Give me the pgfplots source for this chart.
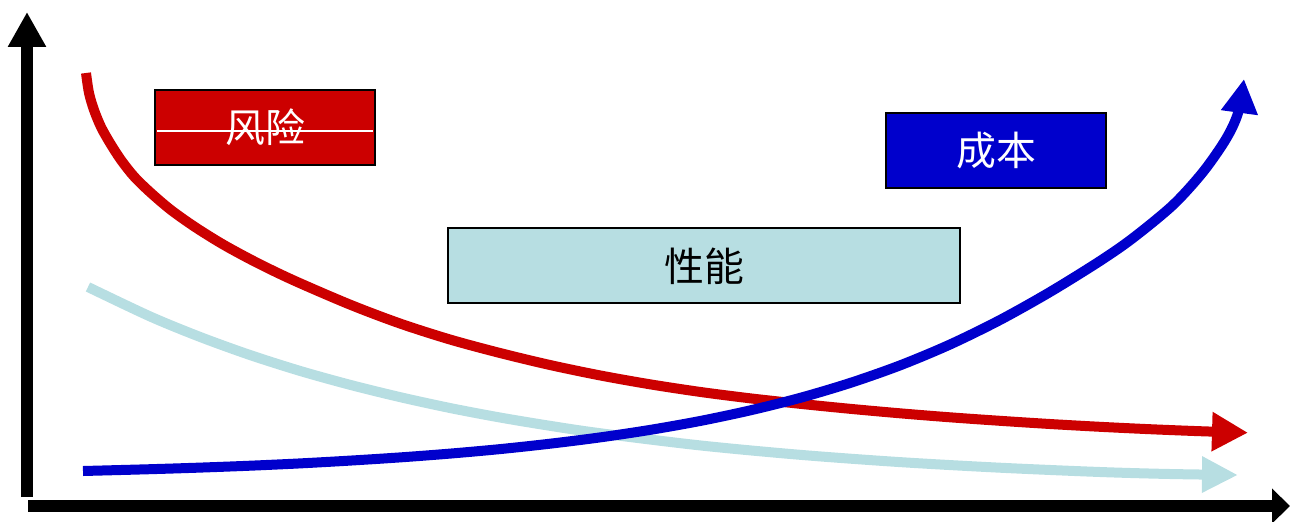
\documentclass[border=0pt]{standalone}
\usepackage{pgfplots}
\pgfplotsset{compat=1.18}
\usepackage{fontspec}
\newfontfamily\cjk{Noto Sans CJK SC}
\usetikzlibrary{arrows.meta}
\definecolor{cred}{HTML}{CC0000}
\definecolor{cblue}{HTML}{0000CC}
\definecolor{clight}{HTML}{B7DEE2}
\begin{document}
\begin{tikzpicture}
\begin{axis}[
  width=1290bp, height=521bp, scale only axis,
  xmin=0, xmax=1290, ymin=0, ymax=521, y dir=reverse,
  axis lines=none, clip=false,
]
% axes
\addplot[black, line width=12bp, sharp plot, -{Triangle[length=35bp,width=36bp]}] coordinates {(27,497) (27,12)};
\addplot[black, line width=12bp, sharp plot, -{Triangle[length=18bp,width=34bp]}] coordinates {(28,506) (1290,506)};
% light blue (performance)
\addplot[clight, line width=10bp, smooth, tension=0.5, -{Triangle[length=36bp,width=34bp]}] coordinates {
(88,287) (150,316.4) (200,336.9) (250,355) (300,370.9) (350,384.8) (400,397.1) (450,408) (500,417.5) (550,425.8) (600,433.2) (700,445.4) (800,454.8) (900,462.1) (1000,467.7) (1100,472) (1170,474) (1238,475)};
% red (risk)
\addplot[cred, line width=10bp, smooth, tension=0.5, -{Triangle[length=36bp,width=37bp]}] coordinates {
(86,73) (89,93) (94,110) (101,127) (110,143) (121,160) (134.5,177) (151,193) (171,210) (195,227) (223.5,244.7) (256.5,262.5) (293.5,280.3) (350,304.6) (400,323.5) (450,339.5) (500,353) (550,365) (600,375.4) (650,384.3) (700,391.9) (750,398.3) (800,403.8) (850,408.8) (900,413.3) (950,417.3) (1000,420.8) (1050,424) (1100,426.8) (1150,429.2) (1200,431.2) (1248,432.7)};
% blue (cost)
\addplot[cblue, line width=10bp, smooth, tension=0.5, -{Triangle[length=34bp,width=35bp]}] coordinates {
(83,471) (150,469.2) (200,467.6) (250,465.7) (300,463.4) (350,460.6) (400,457.4) (450,453.6) (500,449.1) (550,443.7) (600,437.4) (650,429.9) (700,421) (750,410.4) (800,397.9) (850,383) (900,365.4) (950,344.5) (1000,320) (1050,292) (1100,261) (1133,238) (1173,205) (1203,172) (1226,139) (1238,113) (1244,79)};
% boxes
\fill[cred, draw=black, line width=1.5bp] (axis cs:155,90) rectangle (axis cs:375,165);
\node[text=white, font=\cjk\fontsize{40}{44}\selectfont] at (axis cs:265,127) {风险};
\draw[white, line width=1.2bp] (axis cs:157,131) -- (axis cs:373,131);
\fill[cblue, draw=black, line width=1.5bp] (axis cs:886,113) rectangle (axis cs:1106,188);
\node[text=white, font=\cjk\fontsize{40}{44}\selectfont] at (axis cs:996,151) {成本};
\fill[clight, draw=black, line width=1.5bp] (axis cs:448,228) rectangle (axis cs:960,303);
\node[text=black, font=\cjk\fontsize{40}{44}\selectfont] at (axis cs:704,266) {性能};
\end{axis}
\pgfresetboundingbox
\path (current axis.south west) rectangle (current axis.north east);
\end{tikzpicture}
\end{document}
